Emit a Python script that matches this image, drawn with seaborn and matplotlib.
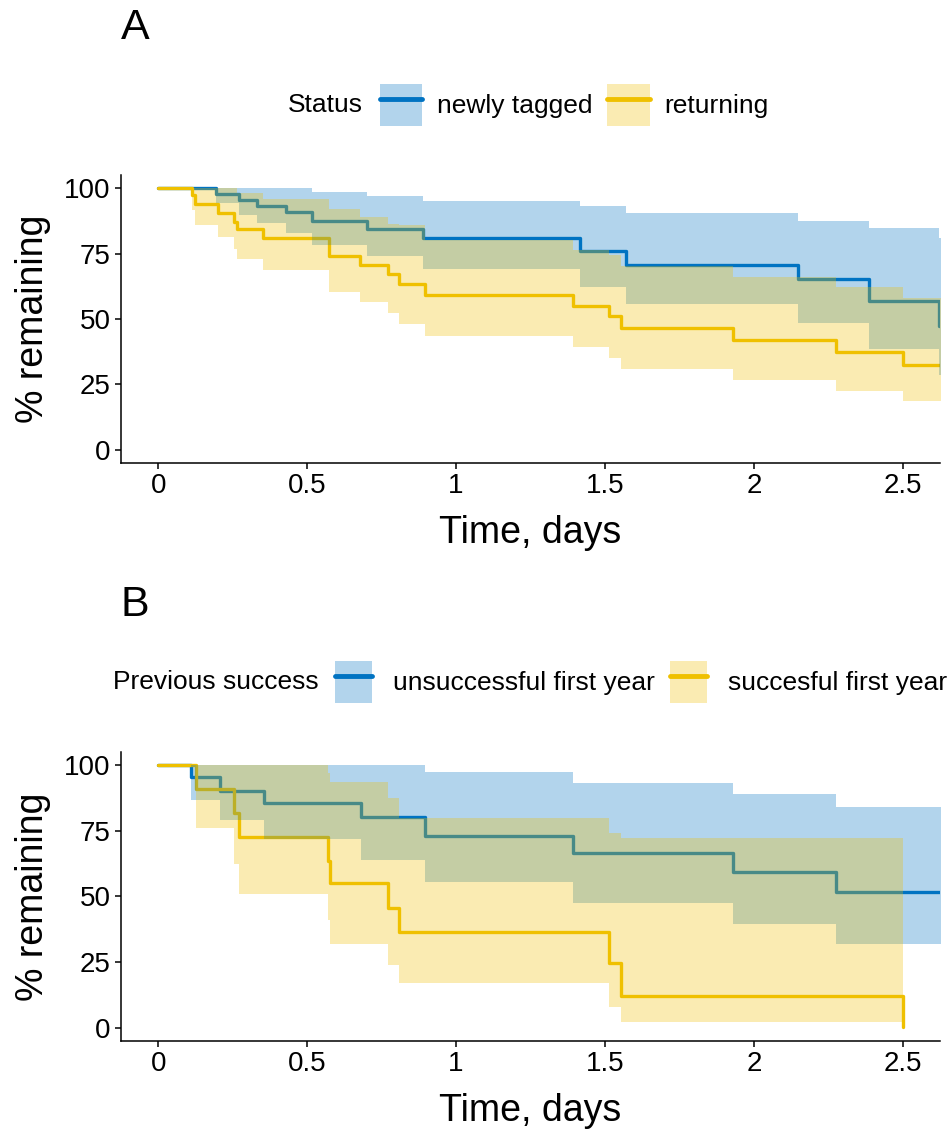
import numpy as np
import pandas as pd
import seaborn as sns
import matplotlib.pyplot as plt
from matplotlib.patches import Patch
from matplotlib.lines import Line2D

# --- data (time in days, % remaining) ---
# Panel A: newly tagged
a_new_t = [0, 0.195, 0.270, 0.331, 0.428, 0.518, 0.700, 0.890, 1.416, 1.570, 2.149, 2.386, 2.622, 2.70]
a_new_s = [100, 97.7, 95.5, 93.2, 90.8, 87.6, 84.5, 80.9, 76.1, 70.8, 65.2, 56.9, 47.5, 47.5]
a_new_hi = [100, 100, 100, 100, 100, 98.4, 97.1, 95.2, 93.2, 90.4, 87.5, 84.7, 80.9, 80.9]
a_new_lo = [100, 94.2, 89.8, 86.6, 82.8, 78.4, 74.0, 69.2, 62.4, 55.7, 48.5, 38.6, 28.5, 28.5]

# Panel A: returning
a_ret_t = [0, 0.113, 0.124, 0.202, 0.253, 0.266, 0.353, 0.575, 0.676, 0.771, 0.807, 0.896,
           1.394, 1.515, 1.554, 1.931, 2.275, 2.501, 2.70]
a_ret_s = [100, 97.3, 93.8, 90.4, 87.2, 84.3, 80.9, 74.0, 70.8, 67.3, 63.3, 59.1,
           55.1, 51.0, 46.5, 42.0, 37.4, 32.6, 32.6]
a_ret_hi = [100, 100, 100, 100, 100, 98.0, 96.0, 92.0, 89.0, 86.5, 86.0, 80.3,
            76.5, 74.6, 70.2, 66.2, 62.4, 58.2, 58.2]
a_ret_lo = [100, 91.7, 86.0, 81.2, 76.9, 73.0, 68.9, 60.3, 56.6, 52.3, 48.1, 43.7,
            39.3, 35.2, 30.9, 26.6, 22.5, 18.7, 18.7]

# Panel B: unsuccessful first year
b_uns_t = [0, 0.110, 0.208, 0.356, 0.680, 0.896, 1.394, 1.931, 2.277, 2.70]
b_uns_s = [100, 95.5, 90.2, 85.4, 80.1, 73.1, 66.4, 59.2, 51.8, 51.8]
b_uns_hi = [100, 100, 100, 100, 100, 97.2, 93.3, 89.2, 84.0, 84.0]
b_uns_lo = [100, 86.7, 79.1, 71.7, 63.9, 55.4, 47.7, 39.5, 31.9, 31.9]

# Panel B: succesful first year
b_suc_t = [0, 0.127, 0.253, 0.270, 0.570, 0.578, 0.771, 0.807, 1.515, 1.554, 2.501]
b_suc_s = [100, 91.1, 81.6, 72.7, 63.6, 55.0, 45.7, 36.6, 24.6, 12.3, 0.5]
b_suc_hi = [100, 100, 100, 100, 97.0, 93.6, 87.3, 79.7, 74.0, 72.1, 72.1]
b_suc_lo = [100, 75.9, 62.2, 50.9, 41.0, 31.9, 24.0, 17.0, 8.1, 2.4, 2.4]

BLUE = "#0073C2"
YELLOW = "#EFC000"

panels = [
    dict(letter="A", title="Status",
         groups=[("newly tagged", a_new_t, a_new_s, a_new_hi, a_new_lo),
                 ("returning", a_ret_t, a_ret_s, a_ret_hi, a_ret_lo)],
         rect=[0.1271, 0.5906, 0.8603, 0.2546], letter_y=1 - 28 / 1131,
         title_x=288 / 952, leg_x=380 / 952, leg_y=1 - 105 / 1131,
         hlen=1.6, tpad=0.56),
    dict(letter="B", title="Previous success",
         groups=[("unsuccessful first year", b_uns_t, b_uns_s, b_uns_hi, b_uns_lo),
                 ("succesful first year", b_suc_t, b_suc_s, b_suc_hi, b_suc_lo)],
         rect=[0.1271, 0.0796, 0.8603, 0.2555], letter_y=1 - 605 / 1131,
         title_x=113 / 952, leg_x=335 / 952, leg_y=1 - 682 / 1131,
         hlen=1.4, tpad=0.8),
]

sns.set_style("ticks")
plt.rcParams['font.family'] = ['Liberation Sans', 'DejaVu Sans']
plt.rcParams['text.color'] = 'black'
plt.rcParams['axes.labelcolor'] = 'black'

fig = plt.figure(figsize=(9.52, 11.31), dpi=100)

for p in panels:
    ax = fig.add_axes(p["rect"])
    names = [g[0] for g in p["groups"]]
    palette = dict(zip(names, [BLUE, YELLOW]))

    df = pd.concat([pd.DataFrame({"time": g[1], "surv": g[2], "group": g[0]})
                    for g in p["groups"]], ignore_index=True)

    # curves first, then the translucent bands on top (as in the original)
    sns.lineplot(data=df, x="time", y="surv", hue="group", palette=palette,
                 estimator=None, drawstyle="steps-post", lw=2.4,
                 legend=False, ax=ax, zorder=2)
    for name, t, s, hi, lo in p["groups"]:
        ax.fill_between(t, lo, hi, step="post", color=palette[name],
                        alpha=0.3, lw=0, zorder=3)

    ax.set_xlim(-0.125, 2.625)
    ax.set_ylim(-5, 105)
    ax.set_xticks([0, 0.5, 1, 1.5, 2, 2.5])
    ax.set_xticklabels(["0", "0.5", "1", "1.5", "2", "2.5"])
    ax.set_yticks([0, 25, 50, 75, 100])
    ax.tick_params(labelsize=20, width=1.1, length=4.5, color="black",
                   labelcolor="black", pad=3)
    for side in ["left", "bottom"]:
        ax.spines[side].set_linewidth(1.1)
        ax.spines[side].set_color("black")
    sns.despine(ax=ax)
    ax.grid(False)

    ax.set_xlabel("Time, days", fontsize=27)
    ax.set_ylabel("% remaining", fontsize=27)
    ax.xaxis.set_label_coords(0.5, -0.18)
    ax.yaxis.set_label_coords(-0.085, 0.5)

    # panel letter
    fig.text(135 / 952, p["letter_y"], p["letter"], fontsize=31,
             ha="center", va="center")

    # legend: title at left, keys = band + line
    fig.text(p["title_x"], p["leg_y"], p["title"], fontsize=19,
             ha="left", va="center")
    handles = [(Patch(facecolor=palette[n], alpha=0.3, lw=0),
                Line2D([], [], color=palette[n], lw=3.5)) for n in names]
    fig.legend(handles, names, loc="center left",
               bbox_to_anchor=(p["leg_x"], p["leg_y"]),
               bbox_transform=fig.transFigure, ncol=2, frameon=False,
               fontsize=19, handlelength=p["hlen"], handleheight=2.1,
               handletextpad=p["tpad"], columnspacing=0.56,
               borderpad=0, borderaxespad=0)

fig.savefig("out.png", dpi=100)
